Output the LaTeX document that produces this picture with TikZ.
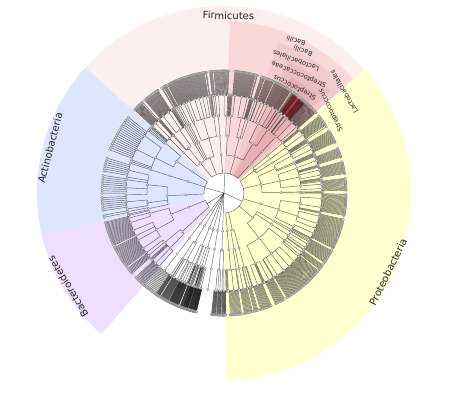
\documentclass[tikz,border=0pt]{standalone}
\usepackage{fontspec}
\setmainfont{DejaVu Sans}
\usepackage{xcolor}
\usepackage{tikz}

\definecolor{proteobg}{RGB}{255,255,208}
\definecolor{firmbg}{RGB}{253,239,239}
\definecolor{bacillibg}{RGB}{248,216,216}
\definecolor{lactobg}{RGB}{243,203,203}
\definecolor{streptaceaebg}{RGB}{237,190,190}
\definecolor{streptbg}{RGB}{230,176,178}
\definecolor{streptdark}{RGB}{184,54,62}
\definecolor{actinobg}{RGB}{222,230,253}
\definecolor{bacterbg}{RGB}{237,223,253}

\newif\ifcladedraw
\newcount\leafcount

% one clade: #1 = rank (0 phylum ... 5 species), #2 = radius of the parent
\newcommand{\clade}[2]{%
  \begingroup
  \pgfmathtruncatemacro\cladelev{#1}%
  \pgfmathsetmacro\cladefrom{#2}%
  \pgfmathsetmacro\claderad{{20,38,57,77,98,122}[\cladelev]}%
  \ifcase\cladelev
    \edef\cladek{\phylumk}%
  \or \pgfmathrandominteger{\cladek}{1}{3}%
  \or \pgfmathrandominteger{\cladek}{1}{3}%
  \or \pgfmathrandominteger{\cladek}{1}{6}%
  \or \pgfmathrandominteger{\claderoll}{1}{20}%
    \ifnum\claderoll<12 \def\cladek{0}%
    \else\ifnum\claderoll<14 \pgfmathrandominteger{\cladek}{1}{2}%
    \else \pgfmathrandominteger{\cladek}{5}{13}\fi\fi
  \else \def\cladek{0}%
  \fi
  \ifnum\cladek=0
    \pgfmathsetmacro\cladeang{\leafstart+\the\leafcount*\leafstep}%
    \global\advance\leafcount by 1
  \else
    \foreach \sub in {1,...,\cladek}{%
      \clade{\cladelev+1}{\claderad}%
      \ifnum\sub=1 \global\expandafter\let\csname cladefirst\cladelev\endcsname\claderet\fi
    }%
    \expandafter\let\expandafter\cladefirst\csname cladefirst\cladelev\endcsname
    \let\cladelast\claderet
    \pgfmathsetmacro\cladeang{(\cladefirst+\cladelast)/2}%
    \ifcladedraw
      \draw[branch] (\cladefirst:\claderad) arc[start angle=\cladefirst, end angle=\cladelast, radius=\claderad];
    \fi
  \fi
  \ifcladedraw
    \draw[branch] (\cladeang:\cladefrom) -- (\cladeang:\claderad);
    \ifnum\cladelev>0 \filldraw[cladedot] (\cladeang:\claderad) circle (1.3);\fi
  \fi
  \xdef\claderet{\cladeang}%
  \endgroup}

% #1 #2 = angles, #3 = seed, #4 = classes; counted once, then drawn
\newcommand{\phylum}[4]{%
  \def\phylumk{#4}%
  \cladedrawfalse\def\leafstart{0}\def\leafstep{0}%
  \pgfmathsetseed{#3}\global\leafcount=0
  \clade{0}{0}%
  \pgfmathsetmacro\leafstep{((#2)-(#1))/\the\leafcount}%
  \pgfmathsetmacro\leafstart{(#1)+\leafstep/2}%
  \cladedrawtrue
  \pgfmathsetseed{#3}\global\leafcount=0
  \clade{0}{0}}

\begin{document}
\begin{tikzpicture}[x=1pt, y=1pt,
  branch/.style={draw=black!90, draw opacity=0.65, line width=0.45pt},
  cladedot/.style={fill=black!10, draw=black!50, line width=0.3pt},
  phylumlabel/.style={font=\fontsize{10}{12}\selectfont, text=black!85, inner sep=0pt},
  cladelabel/.style={font=\fontsize{6.6}{8}\selectfont, text=black!85, inner sep=0pt}
]
\useasboundingbox (-224,-201) rectangle (225,193);

% phylum backgrounds
\fill[proteobg] (0,0) -- (-89.4:187) arc[start angle=-89.4, end angle=41.4, radius=187] -- cycle;
\fill[firmbg] (0,0) -- (41.4:187) arc[start angle=41.4, end angle=137.8, radius=187] -- cycle;
\fill[actinobg] (0,0) -- (137.8:187) arc[start angle=137.8, end angle=193, radius=187] -- cycle;
\fill[bacterbg] (0,0) -- (193:187) arc[start angle=193, end angle=229, radius=187] -- cycle;

% nested clades inside Firmicutes
\fill[bacillibg] (0,0) -- (41.4:172) arc[start angle=41.4, end angle=88, radius=172] -- cycle;
\fill[lactobg] (0,0) -- (41.4:160) arc[start angle=41.4, end angle=70, radius=160] -- cycle;
\fill[streptaceaebg] (0,0) -- (44:147) arc[start angle=44, end angle=64, radius=147] -- cycle;
\fill[streptbg] (0,0) -- (47:134) arc[start angle=47, end angle=60, radius=134] -- cycle;
\fill[streptdark] (48:98) arc[start angle=48, end angle=55, radius=98]
  -- (55:120) arc[start angle=55, end angle=48, radius=120] -- cycle;

\fill[white] (0,0) circle (20);

% tree
\phylum{-89}{41}{11}{6}
\phylum{41}{138}{23}{5}
\phylum{138}{193}{5}{3}
\phylum{193}{229}{17}{2}
\foreach \p in {0,...,5}{
  \pgfmathtruncatemacro\seedval{40+\p}
  \phylum{229+\p*7}{229+(\p+1)*7}{\seedval}{1}
}

% labels
\node[phylumlabel, rotate=-1.5] (firmicutes) at (4.5,177.3) {Firmicutes};
\node[phylumlabel, rotate=75.5] (actinobacteria) at (-174,45) {Actinobacteria};
\node[phylumlabel, rotate=121] (bacteroidetes) at (-156,-94) {Bacteroidetes};
\node[phylumlabel, rotate=64] (proteobacteria) at (164,-79) {Proteobacteria};

\node[cladelabel, rotate=162] (bacillia) at (72,152) {Bacilli};
\node[cladelabel, rotate=160] (bacillib) at (79,142) {Bacilli};
\node[cladelabel, rotate=160] (lactobacillales) at (72,132) {Lactobacillales};
\node[cladelabel, rotate=157] (streptococcaceae) at (75,119) {Streptococcaceae};
\node[cladelabel, rotate=153] (streptococcus) at (71,106) {Streptococcus};
\node[cladelabel, rotate=120] (lactobacillalesb) at (120,101) {Lactobacillales};
\node[cladelabel, rotate=116] (streptococcusb) at (107,83) {Streptococcus};

\end{tikzpicture}
\end{document}
